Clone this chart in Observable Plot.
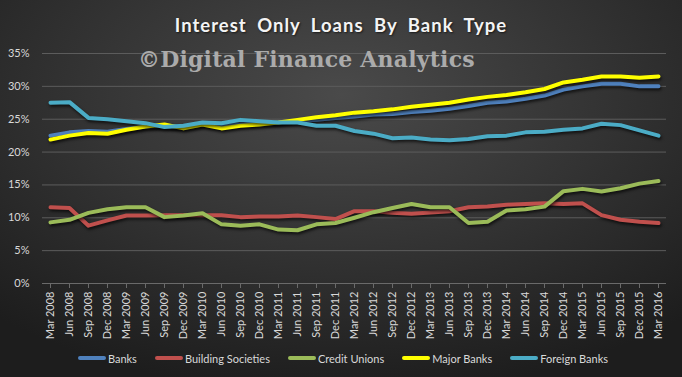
<!DOCTYPE html>
<html>
<head>
<meta charset="utf-8">
<script src="https://cdn.jsdelivr.net/npm/d3@7"></script>
<script src="https://cdn.jsdelivr.net/npm/@observablehq/plot@0.6"></script>
<style>
  html, body { margin: 0; padding: 0; background: #1e1e1e; }
  #chart {
    position: relative; width: 682px; height: 377px; overflow: hidden;
    background: radial-gradient(ellipse 75% 80% at 50% 25%, #4a4a4a 0%, #363636 45%, #262626 80%, #1d1d1d 100%);
    font-family: Lato, "Open Sans", sans-serif;
  }
  #title {
    height: 40px; box-sizing: border-box; padding-top: 15px;
    text-align: center; color: #f4f4f4; font: bold 18.5px Lato, sans-serif;
    letter-spacing: 1px; word-spacing: 5px; line-height: 20px;
    text-shadow: 1px 1px 2px rgba(0,0,0,0.6);
  }
  #wm {
    position: absolute; left: 138px; top: 46px;
    font: bold 22px "DejaVu Serif", serif; color: #ababab; white-space: nowrap; letter-spacing: 0.2px;
  }
  #plot svg { display: block; overflow: visible; }
  #plot g[aria-label="line"] path { filter: drop-shadow(1px 2px 1.5px rgba(0,0,0,0.7)); }
  #legend {
    height: 26px; display: flex; justify-content: center; align-items: center;
    gap: 18px; color: #d9d9d9; font-size: 11px; padding-left: 4px; box-sizing: border-box;
  }
  #legend .item { display: flex; align-items: center; gap: 2px; }
  #legend .sw { width: 28px; height: 4px; border-radius: 2px; }
</style>
</head>
<body>
<div id="chart">
  <div id="title">Interest Only Loans By Bank Type</div>
  <div id="plot"></div>
  <div id="legend"></div>
  <div id="wm">©Digital Finance Analytics</div>
</div>
<script>
const quarters = ["Mar 2008","Jun 2008","Sep 2008","Dec 2008","Mar 2009","Jun 2009","Sep 2009","Dec 2009",
  "Mar 2010","Jun 2010","Sep 2010","Dec 2010","Mar 2011","Jun 2011","Sep 2011","Dec 2011",
  "Mar 2012","Jun 2012","Sep 2012","Dec 2012","Mar 2013","Jun 2013","Sep 2013","Dec 2013",
  "Mar 2014","Jun 2014","Sep 2014","Dec 2014","Mar 2015","Jun 2015","Sep 2015","Dec 2015","Mar 2016"];

const banks = [22.5,23.0,23.2,23.1,23.5,23.9,24.0,23.8,24.2,23.9,24.2,24.4,24.5,24.7,24.9,25.2,
  25.4,25.7,25.8,26.1,26.3,26.6,27.0,27.5,27.7,28.1,28.6,29.5,30.0,30.4,30.4,30.0,30.0];
const buildingSocieties = [11.6,11.5,8.8,9.6,10.35,10.35,10.4,10.4,10.4,10.4,10.1,10.2,10.2,10.35,10.1,9.8,
  11.0,11.0,10.75,10.6,10.8,11.0,11.6,11.7,12.0,12.1,12.2,12.1,12.2,10.4,9.7,9.4,9.2];
const creditUnions = [9.3,9.7,10.75,11.3,11.6,11.6,10.1,10.35,10.7,9.0,8.8,9.0,8.2,8.1,9.0,9.2,
  10.0,10.85,11.5,12.1,11.6,11.6,9.2,9.4,11.1,11.3,11.7,14.05,14.4,14.0,14.5,15.2,15.6];
const majorBanks = [21.9,22.5,22.9,22.8,23.4,23.9,24.2,23.6,24.2,23.6,24.0,24.2,24.5,24.9,25.3,25.6,
  26.0,26.2,26.5,26.9,27.2,27.5,28.0,28.4,28.7,29.1,29.6,30.6,31.0,31.5,31.5,31.3,31.5];
const foreignBanks = [27.5,27.6,25.2,25.0,24.7,24.4,23.8,24.0,24.5,24.4,24.9,24.7,24.5,24.5,24.0,24.0,
  23.2,22.8,22.1,22.2,21.9,21.8,22.0,22.4,22.5,23.0,23.1,23.4,23.6,24.3,24.1,23.3,22.5];

const seriesNames = ["Banks","Building Societies","Credit Unions","Major Banks","Foreign Banks"];
const seriesColors = ["#4f81bd","#c0504d","#9bbb59","#ffff00","#4bacc6"];
const yTicks = [0,5,10,15,20,25,30,35];

const seriesValues = [banks, buildingSocieties, creditUnions, majorBanks, foreignBanks];
const data = seriesValues.flatMap((vals, s) =>
  vals.map((v, i) => ({quarter: quarters[i], value: v, series: seriesNames[s]})));

const chart = Plot.plot({
  width: 682, height: 305,
  marginTop: 13, marginBottom: 62, marginLeft: 42, marginRight: 16,
  style: {background: "transparent", color: "#d9d9d9", fontFamily: "Lato, sans-serif", fontSize: "11px"},
  x: {type: "point", domain: quarters, padding: 0, label: null},
  y: {domain: [0, 35], label: null},
  color: {domain: seriesNames, range: seriesColors},
  marks: [
    Plot.gridY(yTicks, {stroke: "#5c5c5c", strokeOpacity: 1}),
    Plot.axisY(yTicks, {tickSize: 0, tickPadding: 13, tickFormat: d => d + "%", label: null, fill: "#d9d9d9"}),
    Plot.axisX({tickRotate: -90, tickSize: 5, tickPadding: 3, label: null, stroke: "#6a6a6a", fill: "#d9d9d9"}),
    Plot.ruleY([0], {stroke: "#6a6a6a"}),
    Plot.line(data, {x: "quarter", y: "value", z: "series", stroke: "series", strokeWidth: 4, strokeLinejoin: "round", strokeLinecap: "round"})
  ]
});
document.getElementById("plot").appendChild(chart);

const legend = document.getElementById("legend");
seriesNames.forEach((n, i) => {
  const item = document.createElement("div");
  item.className = "item";
  const sw = document.createElement("div");
  sw.className = "sw";
  sw.style.background = seriesColors[i];
  const lab = document.createElement("span");
  lab.textContent = n;
  item.appendChild(sw); item.appendChild(lab);
  legend.appendChild(item);
});
</script>
</body>
</html>
